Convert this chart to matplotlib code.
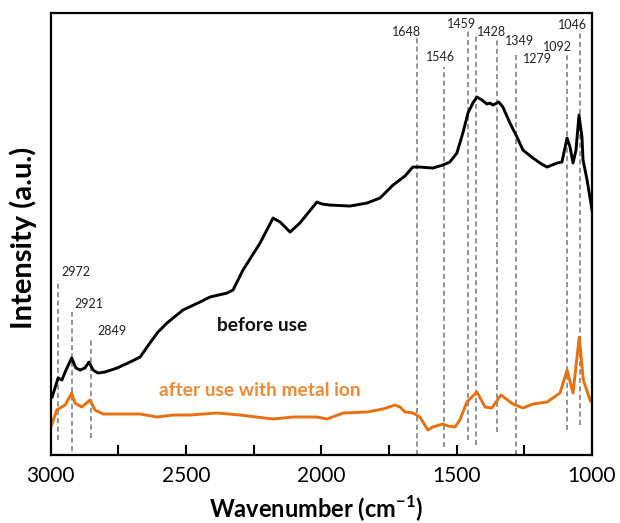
import matplotlib
matplotlib.use("Agg")
import matplotlib.pyplot as plt
from matplotlib.ticker import MultipleLocator

plt.rcParams['font.family'] = ['Lato', 'DejaVu Sans']
plt.rcParams['mathtext.fontset'] = 'custom'
plt.rcParams['mathtext.rm'] = 'Lato:bold'
plt.rcParams['mathtext.bf'] = 'Lato:bold'

# FTIR spectrum before use (wavenumber, intensity a.u.)
before_wn = [2994, 2972, 2958, 2946, 2922, 2906, 2891, 2873, 2858, 2843, 2825, 2799,
             2754, 2706, 2669, 2633, 2603, 2570, 2511, 2448, 2411, 2348, 2326, 2289,
             2226, 2178, 2152, 2115, 2079, 2016, 1997, 1968, 1894, 1831, 1783, 1735,
             1691, 1662, 1636, 1588, 1551, 1525, 1499, 1477, 1458, 1440, 1425, 1406,
             1388, 1377, 1366, 1344, 1329, 1303, 1277, 1255, 1218, 1192, 1166, 1129,
             1111, 1092, 1081, 1070, 1059, 1048, 1037, 1033, 1018, 1004, 1000]
before_int = [58, 77, 75, 83, 97, 87, 85, 87, 93, 85, 82, 83,
              87, 93, 98, 112, 123, 132, 145, 153, 158, 162, 165, 185,
              212, 237, 233, 223, 232, 253, 251, 250, 249, 252, 257, 270,
              279, 288, 288, 287, 290, 293, 302, 322, 342, 352, 358, 355,
              351, 352, 350, 353, 348, 332, 318, 305, 297, 292, 288, 292,
              293, 317, 308, 292, 305, 340, 318, 295, 275, 252, 245]

# FTIR spectrum after use with metal ion
after_wn = [2996, 2977, 2965, 2946, 2922, 2910, 2885, 2854, 2836, 2806, 2669, 2607,
            2548, 2485, 2385, 2300, 2178, 2104, 2016, 1979, 1919, 1831, 1772, 1728,
            1709, 1691, 1661, 1636, 1606, 1588, 1551, 1532, 1506, 1488, 1462, 1425,
            1395, 1370, 1336, 1292, 1255, 1218, 1166, 1118, 1092, 1070, 1047, 1032,
            1007, 1000]
after_int = [30, 45, 47, 50, 62, 52, 48, 55, 45, 41, 41, 38,
             40, 40, 42, 40, 36, 38, 38, 36, 42, 43, 46, 50,
             48, 43, 42, 38, 25, 28, 31, 29, 28, 35, 53, 63,
             48, 47, 60, 51, 47, 51, 53, 62, 85, 62, 118, 75,
             55, 52]

# Marked band positions, dashed guide extents and label anchors
band_wn = [2972, 2921, 2849, 1648, 1546, 1459, 1428, 1349, 1279, 1092, 1046]
band_labels = [str(w) for w in band_wn]
band_top = [175, 143, 117, 417, 388, 427, 422, 418, 402, 403, 425]
band_bottom = [15, 4, 17, 0, 8, 15, 10, 23, 0, 25, 30]
label_wn = [2958, 2913, 2828, 1739, 1613, 1536, 1425, 1322, 1256, 1181, 1126]
label_y = [183, 151, 124, 423, 398, 431, 423, 414, 396, 408, 430]

black = '#000000'
orange = '#E8700F'

fig = plt.figure(figsize=(6.2, 5.23), dpi=100)
ax = fig.add_axes([0.0815, 0.130, 0.8733, 0.845])

for w, t, b in zip(band_wn, band_top, band_bottom):
    ax.plot([w, w], [b, t], color='#757575', lw=1.1, ls=(0, (3.3, 2.2)), zorder=1)
for w, y, s in zip(label_wn, label_y, band_labels):
    ax.text(w, y, s, fontsize=9, color='#222222', ha='left', va='center', zorder=3)

ax.plot(before_wn, before_int, color=black, lw=2.1, zorder=2,
        solid_joinstyle='round')
ax.plot(after_wn, after_int, color=orange, lw=2.1, zorder=2,
        solid_joinstyle='round')

ax.text(2219, 130, 'before use', fontsize=13.8, fontweight='bold', color='#111111',
        ha='center', va='center')
ax.text(2228, 65, 'after use with metal ion', fontsize=13.8, fontweight='bold',
        color='#F08A36', ha='center', va='center')

ax.set_xlim(3000, 1000)
ax.set_ylim(0, 442)
ax.xaxis.set_major_locator(MultipleLocator(500))
ax.xaxis.set_minor_locator(MultipleLocator(250))
ax.tick_params(axis='x', which='both', direction='in', length=7, width=1.5,
               labelsize=15, pad=8, top=False)
ax.set_yticks([])
for sp in ax.spines.values():
    sp.set_linewidth(1.6)

fig.text(0.51, 0.0096, 'Wavenumber (cm$^{-1}$)', fontsize=17, fontweight='bold',
         ha='center', va='baseline')
fig.text(0.037, 0.545, 'Intensity (a.u.)', fontsize=21, fontweight='bold',
         ha='center', va='center', rotation=90)

fig.savefig('out.png', dpi=100)
